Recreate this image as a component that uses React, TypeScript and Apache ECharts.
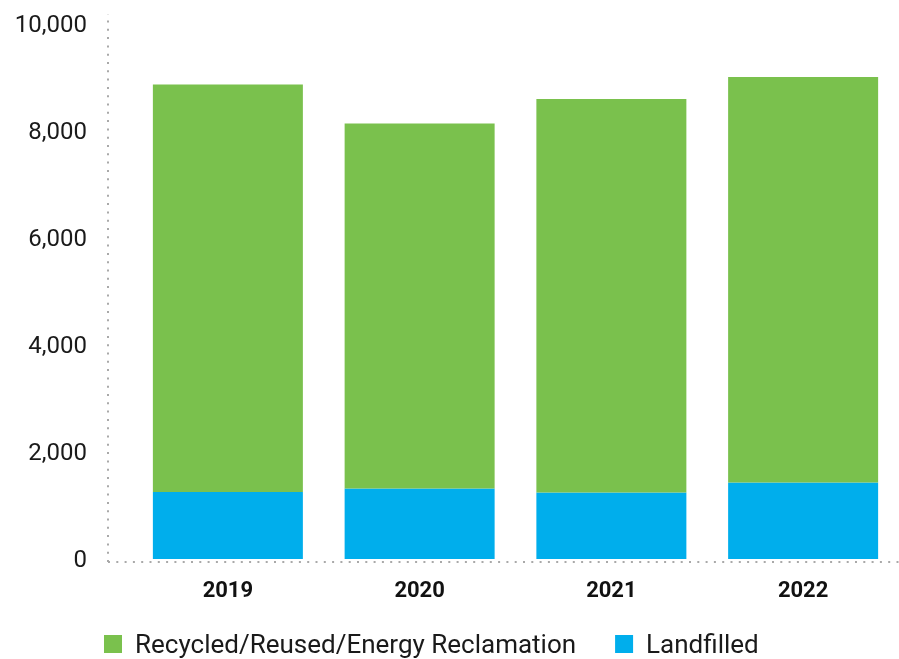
import React, { useEffect, useRef } from "react";
import * as echarts from "echarts";

const years = ["2019", "2020", "2021", "2022"];
const landfilled = [1251, 1320, 1245, 1432];
const recycled = [7616, 6819, 7355, 7579];
const yTicks = { min: 0, max: 10000, interval: 2000 };
const seriesNames = ["Recycled/Reused/Energy Reclamation", "Landfilled"];

const GREEN = "#7AC14D";
const BLUE = "#00AEEC";
const FONT = "Roboto, 'Noto Sans', sans-serif";

export default function App() {
  const ref = useRef<HTMLDivElement>(null);
  useEffect(() => {
    if (!ref.current) return;
    const chart = echarts.init(ref.current, null, { renderer: "svg" });
    const dotted = { color: "#A9A9A9", width: 2, type: [2, 6.3] as any, cap: "butt" as any };
    chart.setOption({
      animation: false,
      textStyle: { fontFamily: FONT },
      grid: [
        { left: 108, right: 0, top: 14, bottom: 97 },
        { left: 132, right: -1, top: 24, bottom: 100 },
      ],
      xAxis: [
        {
          gridIndex: 0,
          type: "value",
          min: 0,
          max: 1,
          axisLine: { show: true, lineStyle: dotted },
          axisTick: { show: false },
          axisLabel: { show: false },
          splitLine: { show: false },
        },
        {
          gridIndex: 1,
          type: "category",
          data: years,
          axisLine: { show: false },
          axisTick: { show: false },
          axisLabel: {
            fontSize: 22,
            fontWeight: "bold",
            color: "#111",
            margin: 19,
            fontFamily: FONT,
          },
        },
      ],
      yAxis: [
        {
          gridIndex: 0,
          type: "value",
          min: 0,
          max: 1,
          axisLine: { show: true, lineStyle: dotted },
          axisTick: { show: false },
          axisLabel: { show: false },
          splitLine: { show: false },
        },
        {
          gridIndex: 1,
          type: "value",
          min: yTicks.min,
          max: yTicks.max,
          interval: yTicks.interval,
          axisLine: { show: false },
          axisTick: { show: false },
          splitLine: { show: false },
          axisLabel: {
            fontSize: 24,
            color: "#1a1a1a",
            margin: 45,
            fontFamily: FONT,
            formatter: (v: number) => v.toLocaleString("en-US"),
          },
        },
      ],
      legend: {
        data: seriesNames,
        left: 104,
        top: 631,
        padding: 0,
        itemWidth: 18,
        itemHeight: 18,
        itemGap: 39,
        icon: "rect",
        textStyle: {
          fontSize: 26,
          lineHeight: 24,
          color: "#1a1a1a",
          padding: [0, 0, 0, 8],
          fontFamily: FONT,
        },
      },
      series: [
        {
          name: seriesNames[1],
          type: "bar",
          stack: "total",
          xAxisIndex: 1,
          yAxisIndex: 1,
          data: landfilled,
          barWidth: 150,
          itemStyle: { color: BLUE },
        },
        {
          name: seriesNames[0],
          type: "bar",
          stack: "total",
          xAxisIndex: 1,
          yAxisIndex: 1,
          data: recycled,
          barWidth: 150,
          itemStyle: { color: GREEN },
        },
      ],
    });
    return () => chart.dispose();
  }, []);
  return <div ref={ref} style={{ width: 899, height: 659, position: "fixed", left: 0, top: 0 }} />;
}
